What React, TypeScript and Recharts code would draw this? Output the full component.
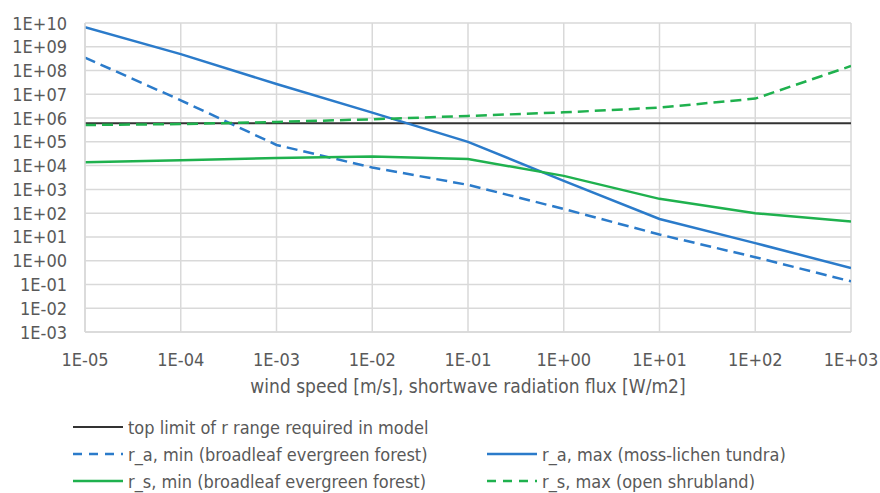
import React from 'react';
import { LineChart, Line, XAxis, YAxis, CartesianGrid, Label } from 'recharts';

const xValues = [1e-5, 1e-4, 1e-3, 1e-2, 1e-1, 1e0, 1e1, 1e2, 1e3];
const topLimit = [6e5, 6e5, 6e5, 6e5, 6e5, 6e5, 6e5, 6e5, 6e5];
const raMin = [3.5e8, 5.6e6, 7.4e4, 8.3e3, 1.55e3, 150, 12.6, 1.4, 0.135];
const raMax = [6.6e9, 4.9e8, 2.7e7, 1.7e6, 1.0e5, 2.3e3, 57, 5.5, 0.49];
const rsMin = [1.4e4, 1.7e4, 2.1e4, 2.4e4, 1.9e4, 3.7e3, 400, 100, 45];
const rsMax = [5.1e5, 5.6e5, 6.9e5, 8.9e5, 1.23e6, 1.74e6, 2.75e6, 6.6e6, 1.55e8];

const xTicks = [1e-5, 1e-4, 1e-3, 1e-2, 1e-1, 1e0, 1e1, 1e2, 1e3];
const yTicks = [1e-3, 1e-2, 1e-1, 1e0, 1e1, 1e2, 1e3, 1e4, 1e5, 1e6, 1e7, 1e8, 1e9, 1e10];

const xAxisTitle = 'wind speed [m/s], shortwave radiation flux [W/m2]';
const nameTop = 'top limit of r range required in model';
const nameRaMin = 'r_a, min (broadleaf evergreen forest)';
const nameRaMax = 'r_a, max (moss-lichen tundra)';
const nameRsMin = 'r_s, min (broadleaf evergreen forest)';
const nameRsMax = 'r_s, max (open shrubland)';

const data = xValues.map((x, i) => ({
  x,
  top: topLimit[i],
  raMin: raMin[i],
  raMax: raMax[i],
  rsMin: rsMin[i],
  rsMax: rsMax[i],
}));

const BLUE = '#2B7BCA';
const GREEN = '#1FB14E';
const BLACK = '#333333';
const GRID = '#D9D9D9';
const TEXT = '#595959';
const FONT = "'DejaVu Sans Condensed', 'DejaVu Sans', sans-serif";
const DASH = '11 6';

const fmt = (v: number) => {
  const e = Math.round(Math.log10(v));
  return `1E${e < 0 ? '-' : '+'}${String(Math.abs(e)).padStart(2, '0')}`;
};

const XTick = (props: any) => {
  const { x, y, payload } = props;
  return (
    <text x={x} y={y + 34} textAnchor="middle" fill={TEXT} fontSize={18} fontFamily={FONT} style={{ fontStretch: 'condensed' }}>
      {fmt(payload.value)}
    </text>
  );
};

const YTick = (props: any) => {
  const { y, payload } = props;
  return (
    <text x={67} y={y + 6.5} textAnchor="end" fill={TEXT} fontSize={18} fontFamily={FONT} style={{ fontStretch: 'condensed' }}>
      {fmt(payload.value)}
    </text>
  );
};

const legendItems = [
  { name: nameTop, color: BLACK, dash: false, left: 73, top: 427 },
  { name: nameRaMin, color: BLUE, dash: true, left: 73, top: 454 },
  { name: nameRaMax, color: BLUE, dash: false, left: 487, top: 454 },
  { name: nameRsMin, color: GREEN, dash: false, left: 73, top: 481 },
  { name: nameRsMax, color: GREEN, dash: true, left: 487, top: 481 },
];

export default function App() {
  return (
    <div style={{ position: 'absolute', left: 0, top: 0, width: 880, height: 493, background: '#fff' }}>
      <LineChart width={880} height={493} data={data} margin={{ top: 23, right: 29, bottom: 0, left: 0 }}>
        <CartesianGrid stroke={GRID} strokeWidth={1.5} />
        <XAxis
          dataKey="x"
          type="number"
          scale="log"
          domain={[1e-5, 1e3]}
          ticks={xTicks}
          interval={0}
          allowDataOverflow
          height={161}
          axisLine={{ stroke: GRID, strokeWidth: 1.5 }}
          tickLine={false}
          tickSize={0}
          tickMargin={0}
          tick={<XTick />}
        >
          <Label
            content={(p: any) => {
              const vb = p.viewBox || {};
              return (
                <text x={vb.x + vb.width / 2} y={393} textAnchor="middle" fill={TEXT} fontSize={19} fontFamily={FONT} style={{ fontStretch: 'condensed' }}>
                  {xAxisTitle}
                </text>
              );
            }}
          />
        </XAxis>
        <YAxis
          type="number"
          scale="log"
          domain={[1e-3, 1e10]}
          ticks={yTicks}
          interval={0}
          allowDataOverflow
          width={85}
          axisLine={{ stroke: GRID, strokeWidth: 1.5 }}
          tickLine={false}
          tick={<YTick />}
        />
        <Line dataKey="top" name={nameTop} stroke={BLACK} strokeWidth={2} dot={false} isAnimationActive={false} />
        <Line dataKey="raMin" name={nameRaMin} stroke={BLUE} strokeWidth={2.5} strokeDasharray={DASH} dot={false} isAnimationActive={false} />
        <Line dataKey="raMax" name={nameRaMax} stroke={BLUE} strokeWidth={2.5} dot={false} isAnimationActive={false} />
        <Line dataKey="rsMin" name={nameRsMin} stroke={GREEN} strokeWidth={2.5} dot={false} isAnimationActive={false} />
        <Line dataKey="rsMax" name={nameRsMax} stroke={GREEN} strokeWidth={2.5} strokeDasharray={DASH} dot={false} isAnimationActive={false} />
      </LineChart>
      {legendItems.map((it) => (
        <div
          key={it.name}
          style={{
            position: 'absolute',
            left: it.left,
            top: it.top - 11,
            height: 22,
            display: 'flex',
            alignItems: 'center',
            whiteSpace: 'nowrap',
            fontFamily: FONT,
            fontStretch: 'condensed',
            fontSize: 18,
            color: TEXT,
          }}
        >
          <svg width={50} height={6} style={{ marginRight: 5 }}>
            <line x1={0} y1={3} x2={50} y2={3} stroke={it.color} strokeWidth={it.color === BLACK ? 2 : 2.5} strokeDasharray={it.dash ? '9 7' : undefined} />
          </svg>
          <span>{it.name}</span>
        </div>
      ))}
    </div>
  );
}
